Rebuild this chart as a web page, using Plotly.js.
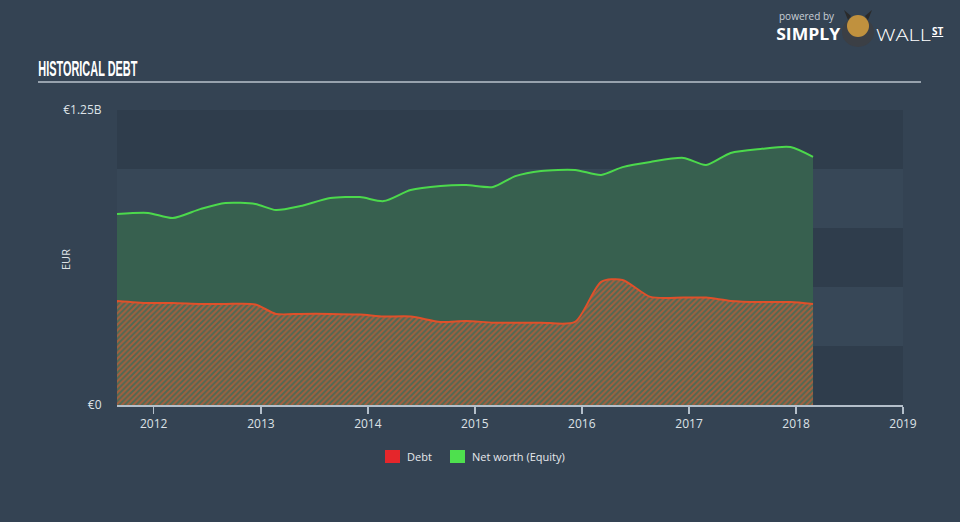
<!DOCTYPE html>
<html>
<head>
<meta charset="utf-8">
<script src="https://cdn.plot.ly/plotly-3.0.1.min.js"></script>
<style>
html,body{margin:0;padding:0;background:#344353;}
#chart{width:960px;height:522px;}
</style>
</head>
<body>
<div id="chart"></div>
<script>
const dates = ['2011-08-29','2011-12-13','2012-03-06','2012-06-10','2012-09-02','2012-12-13','2013-02-21','2013-05-16','2013-08-26','2013-12-05','2014-02-24','2014-05-27','2014-09-06','2014-12-02','2015-03-04','2015-05-19','2015-08-15','2015-12-09','2016-03-07','2016-05-19','2016-08-22','2016-12-13','2017-02-28','2017-05-23','2017-09-02','2017-12-13','2018-02-28'];
const equity = [0.809,0.814,0.792,0.831,0.856,0.852,0.826,0.843,0.877,0.881,0.864,0.911,0.928,0.932,0.924,0.970,0.992,0.996,0.975,1.008,1.030,1.047,1.017,1.068,1.085,1.093,1.051];
const debt = [0.441,0.432,0.432,0.428,0.428,0.426,0.386,0.386,0.386,0.383,0.375,0.375,0.352,0.356,0.349,0.349,0.349,0.352,0.522,0.530,0.458,0.455,0.455,0.441,0.436,0.436,0.428];
const yearTicks = ['2012-01-01','2013-01-01','2014-01-01','2015-01-01','2016-01-01','2017-01-01','2018-01-01','2019-01-01'];
const yearLabels = ['2012','2013','2014','2015','2016','2017','2018','2019'];
const yTickVals = [0, 1.25];
const yTickText = ['€0', '€1.25B'];
const bandEdges = [0, 0.25, 0.5, 0.75, 1.0, 1.25];
const legendNames = ['Debt', 'Net worth (Equity)'];
const legendColors = ['#e5262b', '#4ee04e'];

const traces = [
  {x: dates, y: equity, type: 'scatter', mode: 'lines', name: 'Net worth (Equity)',
   line: {color: '#4cd94c', width: 2, shape: 'spline', smoothing: 0.7},
   fill: 'tozeroy', fillcolor: '#37604f', hoverinfo: 'skip'},
  {x: dates, y: debt, type: 'scatter', mode: 'lines', name: 'Debt',
   line: {color: '#e0502a', width: 2, shape: 'spline', smoothing: 0.7},
   fill: 'tozeroy',
   fillpattern: {shape: '/', fgcolor: '#a35f3f', bgcolor: '#4e6a54', size: 4, solidity: 0.5},
   hoverinfo: 'skip'}
];

const shapes = [];
for (let i = 0; i < bandEdges.length - 1; i++) {
  shapes.push({type: 'rect', xref: 'paper', yref: 'y', x0: 0, x1: 1,
    y0: bandEdges[i], y1: bandEdges[i+1], layer: 'below', line: {width: 0},
    fillcolor: (i % 2 === 0) ? '#2f3d4c' : '#374757'});
}
const px = v => (v - 117) / 786;
const py = v => (405 - v) / 295;
// title underline
shapes.push({type: 'line', xref: 'paper', yref: 'paper', x0: px(38), x1: px(921), y0: py(82), y1: py(82),
  line: {color: '#b9c2cb', width: 1.5}});
// legend swatches
shapes.push({type: 'rect', xref: 'paper', yref: 'paper', x0: px(385), x1: px(400), y0: py(450), y1: py(463),
  fillcolor: legendColors[0], line: {width: 0}});
shapes.push({type: 'rect', xref: 'paper', yref: 'paper', x0: px(450), x1: px(465), y0: py(450), y1: py(463),
  fillcolor: legendColors[1], line: {width: 0}});
// logo bull (simplified)
shapes.push({type: 'circle', xref: 'paper', yref: 'paper', x0: px(842), x1: px(874), y0: py(47), y1: py(17),
  fillcolor: '#3b3f45', line: {width: 0}});
shapes.push({type: 'circle', xref: 'paper', yref: 'paper', x0: px(847), x1: px(869), y0: py(37), y1: py(15),
  fillcolor: '#c0913e', line: {width: 0}});
shapes.push({type: 'path', xref: 'paper', yref: 'paper',
  path: 'M ' + px(848) + ' ' + py(20) + ' L ' + px(844) + ' ' + py(10) + ' L ' + px(851) + ' ' + py(16) + ' Z',
  fillcolor: '#2a2a2a', line: {width: 0}});
shapes.push({type: 'path', xref: 'paper', yref: 'paper',
  path: 'M ' + px(868) + ' ' + py(20) + ' L ' + px(872) + ' ' + py(10) + ' L ' + px(865) + ' ' + py(16) + ' Z',
  fillcolor: '#2a2a2a', line: {width: 0}});

const annotations = [
  {text: 'HISTORICAL DEBT', xref: 'paper', yref: 'paper', x: px(87.5), y: py(68), xanchor: 'center', yanchor: 'middle',
   showarrow: false, font: {family: 'Liberation Sans, sans-serif', size: 22, color: '#ffffff', weight: 'bold'}},
  {text: 'EUR', xref: 'paper', yref: 'paper', x: px(65), y: py(260), xanchor: 'center', yanchor: 'middle', textangle: -90,
   showarrow: false, font: {family: 'Open Sans, sans-serif', size: 11, color: '#dde2e7'}},
  {text: legendNames[0], xref: 'paper', yref: 'paper', x: px(405), y: py(456), xanchor: 'left', yanchor: 'middle',
   showarrow: false, font: {family: 'Open Sans, sans-serif', size: 11, color: '#e6e9ec'}},
  {text: legendNames[1], xref: 'paper', yref: 'paper', x: px(470), y: py(456), xanchor: 'left', yanchor: 'middle',
   showarrow: false, font: {family: 'Open Sans, sans-serif', size: 11, color: '#e6e9ec'}},
  {text: 'powered by', xref: 'paper', yref: 'paper', x: px(777), y: py(16), xanchor: 'left', yanchor: 'middle',
   showarrow: false, font: {family: 'Open Sans, sans-serif', size: 10, color: '#c9d0d7'}},
  {text: '<b>SIMPLY</b>', xref: 'paper', yref: 'paper', x: px(808), y: py(34), xanchor: 'center', yanchor: 'middle',
   showarrow: false, font: {family: 'Open Sans, sans-serif', size: 16, color: '#ffffff'}},
  {text: 'WALL', xref: 'paper', yref: 'paper', x: px(903), y: py(34), xanchor: 'center', yanchor: 'middle',
   showarrow: false, font: {family: 'Open Sans, sans-serif', size: 17, color: '#ffffff', weight: 300}},
  {text: '<b><u>ST</u></b>', xref: 'paper', yref: 'paper', x: px(930), y: py(31), xanchor: 'left', yanchor: 'middle',
   showarrow: false, font: {family: 'Open Sans, sans-serif', size: 10, color: '#ffffff'}}
];

const layout = {
  width: 960, height: 522,
  margin: {l: 117, r: 57, t: 110, b: 117},
  paper_bgcolor: '#344353', plot_bgcolor: 'rgba(0,0,0,0)',
  showlegend: false,
  xaxis: {type: 'date', range: ['2011-08-29', '2019-01-01'], tickvals: yearTicks, ticktext: yearLabels,
    showgrid: false, zeroline: false, showline: true, linecolor: '#b4bfca', linewidth: 1.5,
    ticks: 'outside', ticklen: 7, tickcolor: '#b4bfca', tickwidth: 1.5,
    tickfont: {family: 'Open Sans, sans-serif', size: 12, color: '#dde2e7'}},
  yaxis: {range: [0, 1.25], tickvals: yTickVals, ticktext: yTickText, showgrid: false, zeroline: false,
    showline: false, ticks: 'outside', ticklen: 12, tickcolor: 'rgba(0,0,0,0)',
    tickfont: {family: 'Open Sans, sans-serif', size: 12, color: '#dde2e7'}},
  shapes: shapes,
  annotations: annotations
};

Plotly.newPlot('chart', traces, layout, {staticPlot: true, displayModeBar: false}).then(function (gd) {
  // condense the title and logo words to match the reference widths (centre-anchored)
  const fit = {'HISTORICAL DEBT': 99, 'WALL': 55, 'SIMPLY': 64};
  gd.querySelectorAll('.annotation-text').forEach(function (t) {
    const w = fit[t.textContent];
    if (w) { t.setAttribute('textLength', w); t.setAttribute('lengthAdjust', 'spacingAndGlyphs'); }
  });
});
</script>
</body>
</html>
